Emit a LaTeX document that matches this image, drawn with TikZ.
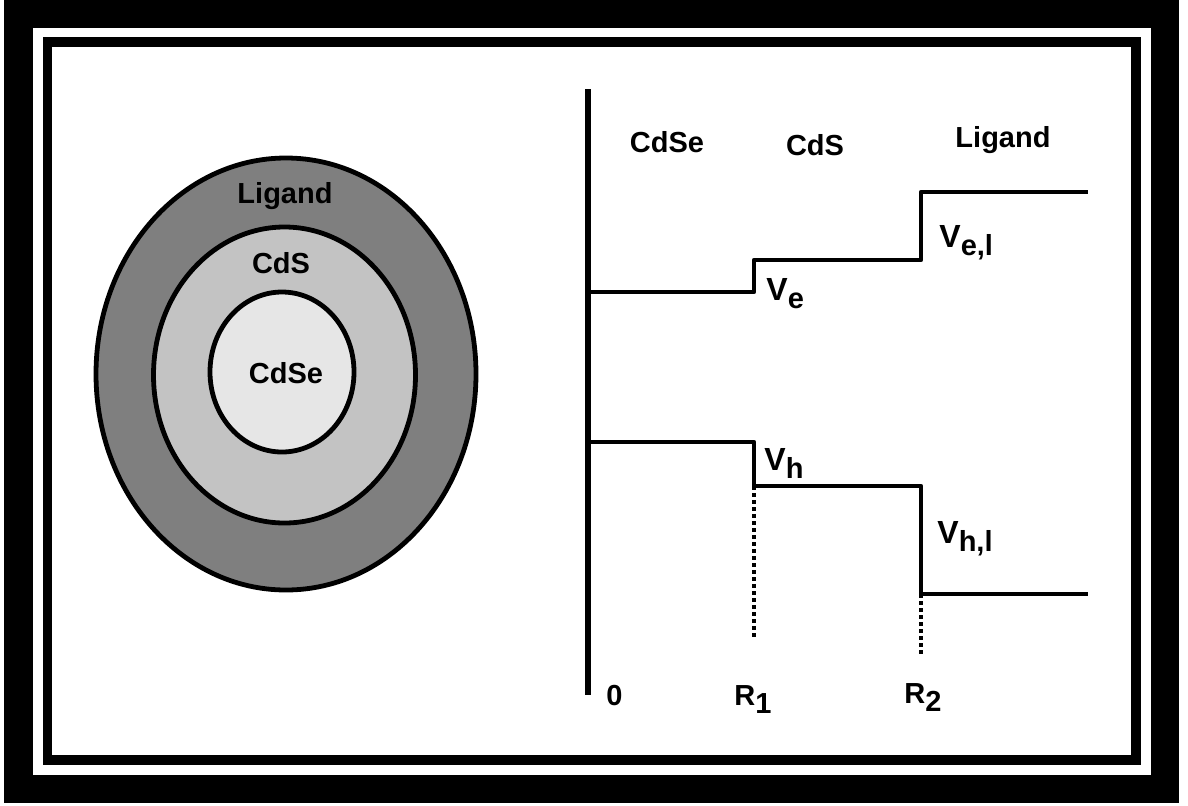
\documentclass[tikz,border=0pt]{standalone}
\usepackage{fontspec}
\setmainfont{Liberation Sans}
\usetikzlibrary{positioning}
\usepackage{xcolor}
\definecolor{ligandgray}{HTML}{7F7F7F}
\definecolor{shellgray}{HTML}{C3C3C3}
\definecolor{coregray}{HTML}{E6E6E6}

% V with a lowered subscript of nearly the same size
\newcommand{\potlbl}[2]{#1\raisebox{-4pt}{\fontsize{14.5}{14}\selectfont #2}}

\begin{document}
\begin{tikzpicture}[
  x=0.5pt, y=-0.5pt,
  font=\bfseries\fontsize{14.5}{16}\selectfont,
  shell/.style={draw, line width=2.4pt},
  level/.style={line width=2.3pt, line join=round},
  axisline/.style={line width=2.6pt},
  guide/.style={line width=2pt, dash pattern=on 2pt off 1.5pt},
  lbl/.style={inner sep=0pt, anchor=base},
  pot/.style={inner sep=0pt, anchor=base west, font=\bfseries\fontsize{16}{18}\selectfont}
]
\useasboundingbox (0,0) rectangle (1188,805);
\fill[white] (0,0) rectangle (1188,805);

% double frame
\fill[black] (4,0) rectangle (1179,803);
\fill[white] (33,28) rectangle (1151,775);
\fill[black] (43,37) rectangle (1141,765);
\fill[white] (52,47) rectangle (1131,755);

% core / shell / ligand
\draw[shell, fill=ligandgray] (286,374) ellipse [x radius=190, y radius=216];
\draw[shell, fill=shellgray] (284.5,375) ellipse [x radius=131, y radius=148];
\draw[shell, fill=coregray] (282,372) ellipse [x radius=72, y radius=80];

\node[lbl] (ligandL) at (285,203) {Ligand};
\node[lbl] (cdsL) at (281,273) {CdS};
\node[lbl] (cdseL) at (286,383) {CdSe};

% potential profile
\coordinate (ytop) at (588,89);
\coordinate (orig) at (588,695);
\draw[axisline] (ytop) -- (orig);

\coordinate (e0) at (588,292);
\coordinate (e1) at (754,292);
\coordinate (e2) at (754,260);
\coordinate (e3) at (921,260);
\coordinate (e4) at (921,192);
\coordinate (e5) at (1088,192);
\draw[level] (e0) -- (e1) -- (e2) -- (e3) -- (e4) -- (e5);

\coordinate (h0) at (588,442);
\coordinate (h1) at (754,442);
\coordinate (h2) at (754,486);
\coordinate (h3) at (921,486);
\coordinate (h4) at (921,594);
\coordinate (h5) at (1088,594);
\draw[level] (h0) -- (h1) -- (h2) -- (h3) -- (h4) -- (h5);

\coordinate (r1) at (754,638);
\coordinate (r2) at (921,655);
\draw[guide] (h2) -- (r1);
\draw[guide] (h4) -- (r2);

\node[lbl] (cdseR) at (667,152) {CdSe};
\node[lbl] (cdsR) at (815,155) {CdS};
\node[lbl] (ligandR) at (1003,147) {Ligand};

\node[pot] (ve) at (766,300) {\potlbl{V}{e}};
\node[pot] (vel) at (939,247) {\potlbl{V}{e,l}};
\node[pot] (vh) at (764,470) {\potlbl{V}{h}};
\node[pot] (vhl) at (937,543) {\potlbl{V}{h,l}};

\node[lbl, anchor=base west] (zero) at (606,705) {0};
\node[lbl, anchor=base west] (r1lbl) at (734,705) {\potlbl{R}{1}};
\node[lbl, anchor=base west] (r2lbl) at (904,703) {\potlbl{R}{2}};

\end{tikzpicture}
\end{document}
